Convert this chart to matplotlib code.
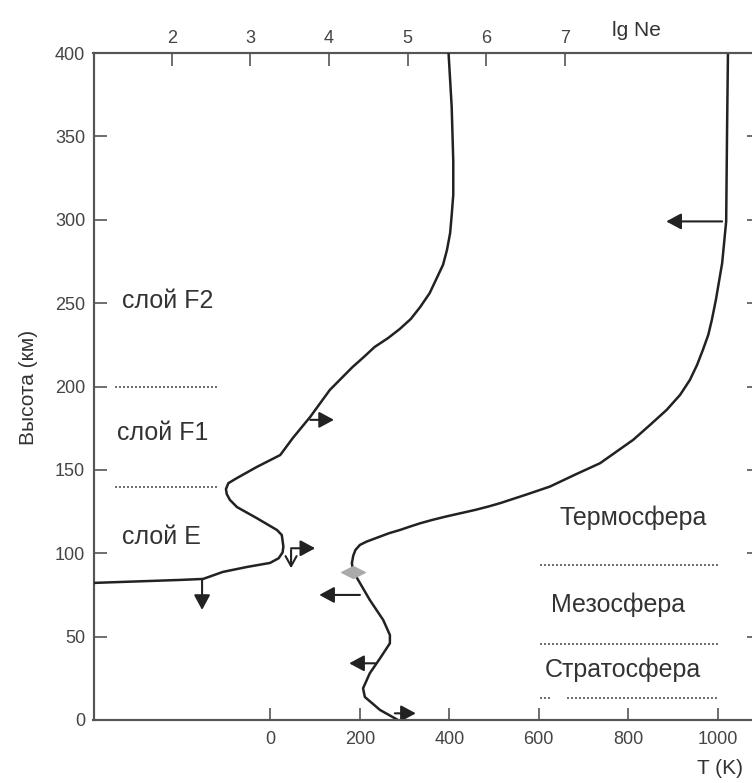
import matplotlib
matplotlib.use('Agg')
import matplotlib.pyplot as plt
from matplotlib.path import Path

plt.rcParams['font.family'] = ['Liberation Sans', 'DejaVu Sans']

# electron density profile: lg Ne vs height (km)
ne_lg = [1.0, 2.11, 2.40, 2.65, 2.96, 3.25, 3.36, 3.41, 3.42, 3.40, 3.34, 3.08, 2.83,
         2.74, 2.70, 2.69, 2.72, 2.83, 3.08, 3.38, 3.54, 3.76, 4.01, 4.18, 4.30, 4.45,
         4.58, 4.75, 4.90, 5.04, 5.16, 5.28, 5.37, 5.45, 5.50, 5.54, 5.56, 5.58, 5.58,
         5.56, 5.52]
ne_km = [82.2, 84.0, 84.6, 88.8, 91.8, 94.2, 97.0, 100.5, 104.0, 110.9, 113.9, 121.1, 127.7,
         132.0, 135.5, 138.5, 142.0, 145.1, 151.7, 158.9, 169.1, 181.7, 197.9, 206.0, 211.7, 218.0,
         223.7, 229.0, 234.5, 240.5, 247.7, 256.0, 265.0, 273.0, 281.9, 292.0, 302.8, 315.0, 335.0,
         367.6, 400.0]

# temperature profile: T (K) vs height (km)
t_k = [285, 245, 211, 207, 222, 245, 267, 267, 252, 222, 196, 185, 182, 185, 190, 200,
       215, 245, 265, 290, 312, 335, 362, 392, 425, 458, 487, 513, 570, 625, 680, 737,
       811, 849, 886, 916, 938, 954, 967, 979, 987, 996, 1010, 1019, 1021, 1023]
t_km = [0, 6, 13.8, 19, 28, 37, 46, 51, 60, 72, 84, 89, 94, 98.5, 102, 105,
        107, 110, 112, 114, 116, 118, 120, 122, 124, 126, 128, 130, 135, 140, 147, 154,
        168, 177, 186, 195, 204, 213, 222, 231, 240, 252, 274, 299, 354, 400]

mesopause = (185, 89)

# ionosphere layers (left) and atmosphere layers (right)
iono_labels = ['слой F2', 'слой F1', 'слой E']
iono_label_km = [251, 172, 110]
iono_bounds_km = [200, 140]
atm_labels = ['Термосфера', 'Мезосфера', 'Стратосфера']
atm_label_pos = [(812, 121), (777, 69), (787, 30)]
atm_bounds_km = [93, 45.5, 13]

# arrows: (T tail, km tail, T head, km head, filled)
arrows = [
    (-153, 84, -153, 66, True),
    (46, 102, 46, 91, False),
    (46, 103, 100, 103, True),
    (89, 180, 142, 180, True),
    (1010, 299, 885, 299, True),
    (200, 75, 109, 75, True),
    (234, 34, 176, 34, True),
    (278, 4, 325, 4, True),
]

t_ticks = [0, 200, 400, 600, 800, 1000]
lg_ticks = [2, 3, 4, 5, 6, 7]
km_ticks = list(range(0, 401, 50))

W, H = 752, 783
fig = plt.figure(figsize=(W / 100, H / 100), dpi=100)
left, right, top, bottom = 93.5, 759, 53, 720
ax = fig.add_axes([left / W, 1 - bottom / H, (right - left) / W, (bottom - top) / H])
ax.set_xlim(-395.8, 1092.4)
ax.set_ylim(0, 400)

line_c = '#222222'
grey = '#444444'

ax.plot(t_k, t_km, color=line_c, lw=1.8, zorder=3, solid_joinstyle='round')

ax2 = ax.twiny()
ax2.set_xlim(1.006, 9.467)
ax2.plot(ne_lg, ne_km, color=line_c, lw=1.8, zorder=3, solid_joinstyle='round')

# diamond at the mesopause
diamond = Path([(-1, 0), (0, 0.5), (1, 0), (0, -0.5), (-1, 0)],
               [Path.MOVETO, Path.LINETO, Path.LINETO, Path.LINETO, Path.CLOSEPOLY])
ax.plot(*mesopause, marker=diamond, markersize=17, color='#aaaaaa',
        markeredgecolor='#aaaaaa', zorder=4)

for x0, y0, x1, y1, filled in arrows:
    if filled:
        style, ms = '-|>,head_length=0.5,head_width=0.27', 18
    else:
        style, ms = '->,head_length=0.45,head_width=0.25', 16
    ax.annotate('', xy=(x1, y1), xytext=(x0, y0),
                arrowprops=dict(arrowstyle=style, color=line_c, lw=1.5,
                                mutation_scale=ms, shrinkA=0, shrinkB=0))

dot = dict(color='#555555', lw=1.2, linestyle=(0, (1.2, 1.2)))
for km in iono_bounds_km:
    ax.plot([-347, -117], [km, km], **dot)
for i, km in enumerate(atm_bounds_km):
    if i == 2:
        ax.plot([603, 626], [km, km], **dot)
        ax.plot([664, 1000], [km, km], **dot)
    else:
        ax.plot([603, 1000], [km, km], **dot)

for lab, km in zip(iono_labels, iono_label_km):
    ax.text(-333 if lab != 'слой F1' else -343, km, lab, fontsize=18,
            color='#333333', va='center', ha='left')
for lab, (x, y) in zip(atm_labels, atm_label_pos):
    ax.text(x, y, lab, fontsize=18, color='#333333', va='center', ha='center')

ax.set_xticks(t_ticks)
ax.set_yticks(km_ticks)
ax2.set_xticks(lg_ticks)
ax.tick_params(axis='x', direction='in', length=9, width=1.2, colors='#555555',
               labelcolor=grey, labelsize=13, pad=8, top=False)
ax.tick_params(axis='y', direction='in', length=9, width=1.2, colors='#555555',
               labelcolor=grey, labelsize=13, pad=6, right=True)
ax2.tick_params(axis='x', direction='in', length=9, width=1.2, colors='#555555',
                labelcolor=grey, labelsize=13, pad=4)

for a in (ax, ax2):
    for s in a.spines.values():
        s.set_color('#555555')
        s.set_linewidth(1.5)

fig.text(28 / W, 1 - 387 / H, 'Высота (км)', rotation=90, fontsize=15,
         color='#333333', ha='center', va='center')
fig.text(636 / W, 1 - 30 / H, 'lg Ne', fontsize=15, color='#333333',
         ha='center', va='center')
fig.text(720 / W, 1 - 768 / H, 'T (K)', fontsize=15, color='#333333',
         ha='center', va='center')

fig.savefig('out.png', dpi=100)
